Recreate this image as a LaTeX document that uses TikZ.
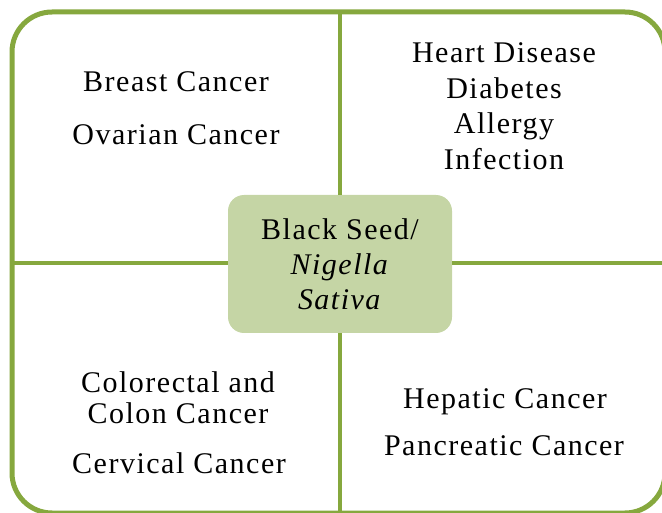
\documentclass[tikz,border=0pt]{standalone}
\usepackage{fontspec}
\setmainfont[LetterSpace=5]{Liberation Serif}
\definecolor{leafgreen}{HTML}{86A83E}
\definecolor{seedfill}{HTML}{C5D5A5}

\begin{document}
\begin{tikzpicture}[x=1pt, y=-1pt,
    item/.style={font=\fontsize{30}{36}\selectfont, anchor=base, inner sep=0pt},
    hub/.style={rectangle, rounded corners=16pt, fill=seedfill, minimum width=224pt, minimum height=138pt, align=center, inner sep=0pt, font=\fontsize{30}{35}\selectfont},
    divider/.style={leafgreen, line width=4pt},
    rimline/.style={leafgreen, line width=5pt, rounded corners=40pt}
]
    \useasboundingbox (0,0) rectangle (662,513);

    % outer frame and the points where the dividers meet it
    \draw[rimline] (12,12) rectangle (665,513);
    \coordinate (rimtop) at (340,12);
    \coordinate (rimbottom) at (340,513);
    \coordinate (rimleft) at (12,263);
    \coordinate (rimright) at (665,263);

    \node[hub] (seed) at (340,264) {Black Seed/\\ \textit{Nigella}\\ \textit{Sativa}};

    \draw[divider] (seed.north) -- (rimtop);
    \draw[divider] (seed.south) -- (rimbottom);
    \draw[divider] (seed.west |- rimleft) -- (rimleft);
    \draw[divider] (seed.east |- rimright) -- (rimright);

    % top left
    \node[item] (breast) at (176,92) {Breast Cancer};
    \node[item] (ovarian) at (176,145) {Ovarian Cancer};

    % top right
    \node[item] (heart) at (504,63) {Heart Disease};
    \node[item] (diabetes) at (504,99) {Diabetes};
    \node[item] (allergy) at (504,134) {Allergy};
    \node[item] (infection) at (504,170) {Infection};

    % bottom left
    \node[item] (colorectal) at (178,392) {Colorectal and};
    \node[item] (colon) at (178,423) {Colon Cancer};
    \node[item] (cervical) at (179,473) {Cervical Cancer};

    % bottom right
    \node[item] (hepatic) at (505,408) {Hepatic Cancer};
    \node[item] (pancreatic) at (504,455) {Pancreatic Cancer};
\end{tikzpicture}
\end{document}
